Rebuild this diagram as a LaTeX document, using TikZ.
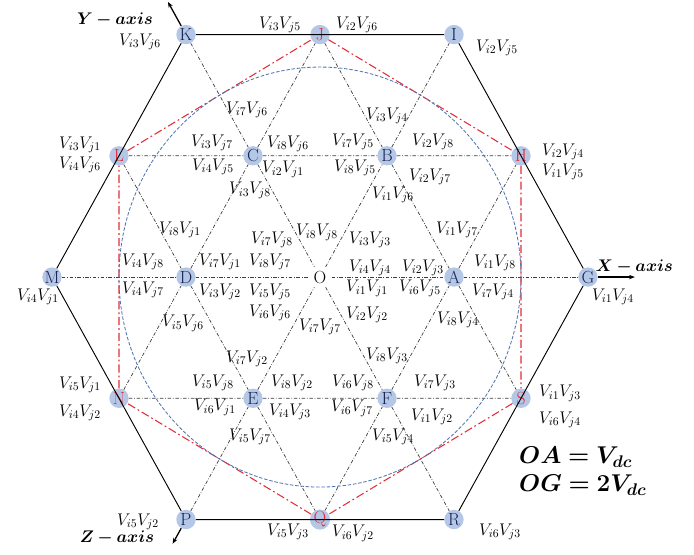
\documentclass[tikz,border=0pt]{standalone}
\usepackage{amsmath}
\usepackage{bm}
\usetikzlibrary{arrows.meta}

\definecolor{ptfill}{RGB}{180,199,231}
\definecolor{ptnavy}{RGB}{25,35,80}
\definecolor{hexred}{RGB}{225,45,55}
\definecolor{cirblue}{RGB}{80,115,175}
\definecolor{latgray}{RGB}{60,60,60}
\newcommand{\VV}[2]{$V_{i#1}V_{j#2}$}

\begin{document}
\begin{tikzpicture}[x=4.02cm, y=4.2cm,
  vtx/.style={circle, fill=ptfill, text=ptnavy, inner sep=0pt, minimum size=0.58cm,
    font=\fontsize{15}{15}\selectfont},
  rvtx/.style={vtx, text=hexred},
  lbl/.style={inner sep=0pt, font=\fontsize{14.8}{15}\selectfont},
  latline/.style={latgray, line width=0.6pt, dash pattern=on 3pt off 1.5pt on 0.6pt off 1.5pt},
  hexline/.style={black, line width=0.8pt},
  redhex/.style={hexred, line width=0.9pt, dash pattern=on 7pt off 2.5pt on 1.5pt off 2.5pt},
  axisarrow/.style={black, line width=1.1pt, -{Stealth[length=5pt]}},
  axislbl/.style={inner sep=0pt, font=\fontsize{15.5}{15.5}\selectfont}]
  \useasboundingbox (-2.388,-1.979) rectangle (2.791,1.979);

  % 中心与内六边形顶点
  \node[circle, inner sep=1.5pt, font=\fontsize{15}{15}\selectfont] (O) at (0,0) {O};
  \node[vtx] (A) at (0:1)   {A};
  \node[vtx] (B) at (60:1)  {B};
  \node[vtx] (C) at (120:1) {C};
  \node[vtx] (D) at (180:1) {D};
  \node[vtx] (E) at (240:1) {E};
  \node[vtx] (F) at (300:1) {F};
  % 外六边形顶点
  \node[vtx] (G) at (0:2)   {G};
  \node[vtx] (I) at (60:2)  {I};
  \node[vtx] (K) at (120:2) {K};
  \node[vtx] (M) at (180:2) {M};
  \node[vtx] (P) at (240:2) {P};
  \node[vtx] (R) at (300:2) {R};
  % 红色六边形顶点
  \node[rvtx] (H) at (30:1.732)  {H};
  \node[rvtx] (J) at (90:1.732)  {J};
  \node[rvtx] (L) at (150:1.732) {L};
  \node[rvtx] (N) at (210:1.732) {N};
  \node[rvtx] (Q) at (270:1.732) {Q};
  \node[rvtx] (S) at (330:1.732) {S};

  % 三个方向的点划线
  \draw[latline] (L) -- (C) -- (B) -- (H);
  \draw[latline] (M) -- (D) -- (O) -- (A) -- (G);
  \draw[latline] (N) -- (E) -- (F) -- (S);
  \draw[latline] (N) -- (D) -- (C) -- (J);
  \draw[latline] (P) -- (E) -- (O) -- (B) -- (I);
  \draw[latline] (Q) -- (F) -- (A) -- (H);
  \draw[latline] (L) -- (D) -- (E) -- (Q);
  \draw[latline] (K) -- (C) -- (O) -- (F) -- (R);
  \draw[latline] (J) -- (B) -- (A) -- (S);

  \draw[hexline] (G) -- (I) -- (K) -- (M) -- (P) -- (R) -- (G);
  \draw[redhex] (J) -- (H) -- (S) -- (Q) -- (N) -- (L) -- (J);
  \draw[cirblue, line width=0.7pt, dash pattern=on 3pt off 1.5pt] (O) circle (1.5);

  % 坐标轴
  \coordinate (Xend) at (0:2.35);
  \coordinate (Yend) at (120:2.27);
  \coordinate (Zend) at (240:2.2);
  \draw[axisarrow] (G) -- (Xend);
  \draw[axisarrow] (K) -- (Yend);
  \draw[axisarrow] (P) -- (Zend);
  \node[axislbl] (xl) at (2.345,0.075)   {$\bm{X-axis}$};
  \node[axislbl] (yl) at (-1.53,1.836)  {$\bm{Y-axis}$};
  \node[axislbl] (zl) at (-1.515,-1.864) {$\bm{Z-axis}$};

  % 上部标签
  \node[lbl] (v36) at (-1.343,1.679) {\VV36};
  \node[lbl] (v35) at (-0.299,1.80)  {\VV35};
  \node[lbl] (v26) at (0.276,1.80)   {\VV26};
  \node[lbl] (v25) at (1.321,1.636)  {\VV25};
  \node[lbl] (v76) at (-0.545,1.193) {\VV76};
  \node[lbl] (v34) at (0.50,1.15)    {\VV34};
  \node[lbl] (v31) at (-1.791,0.943) {\VV31};
  \node[lbl] (v46) at (-1.791,0.80)  {\VV46};
  \node[lbl] (v37) at (-0.806,0.957) {\VV37};
  \node[lbl] (v86) at (-0.239,0.95)  {\VV86};
  \node[lbl] (v45) at (-0.799,0.786) {\VV45};
  \node[lbl] (v21) at (-0.276,0.771) {\VV21};
  \node[lbl] (v75) at (0.246,0.964)  {\VV75};
  \node[lbl] (v85) at (0.261,0.779)  {\VV85};
  \node[lbl] (v28) at (0.843,0.964)  {\VV28};
  \node[lbl] (v27) at (0.821,0.714)  {\VV27};
  \node[lbl] (v24) at (1.813,0.893)  {\VV24};
  \node[lbl] (v15) at (1.813,0.75)   {\VV15};

  % 中部标签
  \node[lbl] (v38) at (-0.522,0.621) {\VV38};
  \node[lbl] (v16) at (0.545,0.586)  {\VV16};
  \node[lbl] (v81) at (-1.045,0.336) {\VV81};
  \node[lbl] (v78) at (-0.358,0.264) {\VV78};
  \node[lbl] (v88) at (-0.022,0.321) {\VV88};
  \node[lbl] (v33) at (0.373,0.264)  {\VV33};
  \node[lbl] (v17) at (1.022,0.336)  {\VV17};
  \node[lbl] (v48) at (-1.321,0.107) {\VV48};
  \node[lbl] (v71) at (-0.746,0.107) {\VV71};
  \node[lbl] (v87) at (-0.373,0.107) {\VV87};
  \node[lbl] (v44) at (0.373,0.064)  {\VV44};
  \node[lbl] (v23) at (0.769,0.064)  {\VV23};
  \node[lbl] (v18) at (1.306,0.10)   {\VV18};
  \node[lbl] (v47) at (-1.321,-0.093) {\VV47};
  \node[lbl] (v32) at (-0.746,-0.107) {\VV32};
  \node[lbl] (v55) at (-0.373,-0.107) {\VV55};
  \node[lbl] (v11) at (0.351,-0.079)  {\VV11};
  \node[lbl] (v65) at (0.746,-0.079)  {\VV65};
  \node[lbl] (v74) at (1.291,-0.107)  {\VV74};
  \node[lbl] (v41) at (-2.104,-0.143) {\VV41};
  \node[lbl] (v14) at (2.187,-0.143)  {\VV14};
  \node[lbl] (v66) at (-0.373,-0.257) {\VV66};
  \node[lbl] (v22) at (0.351,-0.271)  {\VV22};
  \node[lbl] (v56) at (-1.022,-0.329) {\VV56};
  \node[lbl] (v77) at (0,-0.357)      {\VV77};
  \node[lbl] (v84) at (1.03,-0.307)   {\VV84};
  \node[lbl] (v72) at (-0.545,-0.586) {\VV72};
  \node[lbl] (v83) at (0.50,-0.564)   {\VV83};

  % 下部标签
  \node[lbl] (v51) at (-1.791,-0.771) {\VV51};
  \node[lbl] (v42) at (-1.791,-0.971) {\VV42};
  \node[lbl] (v58) at (-0.799,-0.757) {\VV58};
  \node[lbl] (v82) at (-0.209,-0.757) {\VV82};
  \node[lbl] (v68) at (0.246,-0.757)  {\VV68};
  \node[lbl] (v73) at (0.858,-0.757)  {\VV73};
  \node[lbl] (v61) at (-0.784,-0.929) {\VV61};
  \node[lbl] (v43) at (-0.224,-0.964) {\VV43};
  \node[lbl] (v67) at (0.239,-0.936)  {\VV67};
  \node[lbl] (v12) at (0.836,-1.0)    {\VV12};
  \node[lbl] (v13) at (1.791,-0.829)  {\VV13};
  \node[lbl] (v64) at (1.791,-1.021)  {\VV64};
  \node[lbl] (v57) at (-0.522,-1.143) {\VV57};
  \node[lbl] (v54) at (0.545,-1.143)  {\VV54};
  \node[lbl] (v52) at (-1.358,-1.75)  {\VV52};
  \node[lbl] (v53) at (-0.239,-1.821) {\VV53};
  \node[lbl] (v62) at (0.246,-1.829)  {\VV62};
  \node[lbl] (v63) at (1.343,-1.821)  {\VV63};

  % 说明
  \node[anchor=west, align=left, inner sep=0pt, font=\fontsize{20}{24}\selectfont] (note)
    at (1.485,-1.386) {$\bm{OA=V_{dc}}$\\$\bm{OG=2V_{dc}}$};
\end{tikzpicture}
\end{document}
